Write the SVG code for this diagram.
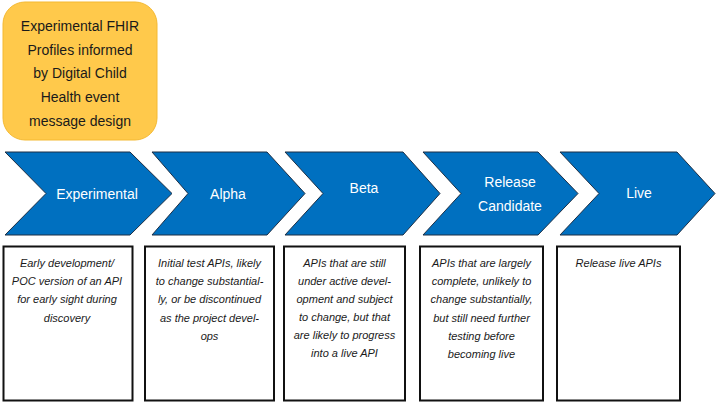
<svg xmlns="http://www.w3.org/2000/svg" width="718" height="403" viewBox="0 0 718 403">
  <style>
    .chev { fill: #0070C0; stroke: #1d2f45; stroke-width: 1; }
    .chevtxt { font-family: "Liberation Sans", Arial, sans-serif; font-size: 14px; fill: #ffffff; text-anchor: middle; }
    .box { fill: #ffffff; stroke: #111111; stroke-width: 2; }
    .boxtxt { font-family: "Liberation Sans", Arial, sans-serif; font-size: 11px; font-style: italic; fill: #1a1a1a; text-anchor: middle; }
    .note { fill: #FFC94B; stroke: #F4B932; stroke-width: 1; }
    .notetxt { font-family: "Liberation Sans", Arial, sans-serif; font-size: 14px; fill: #1a1a1a; text-anchor: middle; }
  </style>
  <rect width="718" height="403" fill="#ffffff"/>

  <g id="note">
    <rect class="note" x="3" y="2" width="154" height="138" rx="22" ry="22"/>
    <text class="notetxt" x="80" y="31">Experimental FHIR</text>
    <text class="notetxt" x="80" y="55">Profiles informed</text>
    <text class="notetxt" x="80" y="78">by Digital Child</text>
    <text class="notetxt" x="80" y="102">Health event</text>
    <text class="notetxt" x="80" y="126">message design</text>
  </g>

  <g id="stage-experimental">
    <polygon class="chev" points="5,152 130,152 172,193.5 130,235 5,235 46,193.5"/>
    <text class="chevtxt" x="97" y="199">Experimental</text>
  </g>
  <g id="stage-alpha">
    <polygon class="chev" points="152,152 267,152 305,193.5 267,235 152,235 188,193.5"/>
    <text class="chevtxt" x="228" y="199">Alpha</text>
  </g>
  <g id="stage-beta">
    <polygon class="chev" points="285,152 403,152 440,193.5 403,235 285,235 323,193.5"/>
    <text class="chevtxt" x="364" y="193">Beta</text>
  </g>
  <g id="stage-rc">
    <polygon class="chev" points="423,152 538,152 578,193.5 538,235 423,235 461,193.5"/>
    <text class="chevtxt" x="510" y="187">Release</text>
    <text class="chevtxt" x="510" y="211">Candidate</text>
  </g>
  <g id="stage-live">
    <polygon class="chev" points="560,152 677,152 715,193.5 677,235 560,235 599,193.5"/>
    <text class="chevtxt" x="639" y="198">Live</text>
  </g>

  <g id="desc-experimental">
    <rect class="box" x="3.5" y="246.5" width="129" height="154"/>
    <text class="boxtxt" x="67" y="267">Early development/</text>
    <text class="boxtxt" x="67" y="285">POC version of an API</text>
    <text class="boxtxt" x="67" y="303">for early sight during</text>
    <text class="boxtxt" x="67" y="322">discovery</text>
  </g>
  <g id="desc-alpha">
    <rect class="box" x="145" y="246.5" width="129" height="154"/>
    <text class="boxtxt" x="209.5" y="267">Initial test APIs, likely</text>
    <text class="boxtxt" x="209.5" y="285">to change substantial-</text>
    <text class="boxtxt" x="209.5" y="303">ly, or be discontinued</text>
    <text class="boxtxt" x="209.5" y="322">as the project devel-</text>
    <text class="boxtxt" x="209.5" y="340">ops</text>
  </g>
  <g id="desc-beta">
    <rect class="box" x="284" y="246.5" width="121" height="154"/>
    <text class="boxtxt" x="344.5" y="267">APIs that are still</text>
    <text class="boxtxt" x="344.5" y="285">under active devel-</text>
    <text class="boxtxt" x="344.5" y="303">opment and subject</text>
    <text class="boxtxt" x="344.5" y="321">to change, but that</text>
    <text class="boxtxt" x="344.5" y="339">are likely to progress</text>
    <text class="boxtxt" x="344.5" y="357">into a live API</text>
  </g>
  <g id="desc-rc">
    <rect class="box" x="420" y="246.5" width="123" height="154"/>
    <text class="boxtxt" x="481.5" y="267">APIs that are largely</text>
    <text class="boxtxt" x="481.5" y="285">complete, unlikely to</text>
    <text class="boxtxt" x="481.5" y="303">change substantially,</text>
    <text class="boxtxt" x="481.5" y="322">but still need further</text>
    <text class="boxtxt" x="481.5" y="340">testing before</text>
    <text class="boxtxt" x="481.5" y="358">becoming live</text>
  </g>
  <g id="desc-live">
    <rect class="box" x="557" y="246.5" width="123" height="154"/>
    <text class="boxtxt" x="618.5" y="267">Release live APIs</text>
  </g>

  <g id="connectors"></g>
</svg>
